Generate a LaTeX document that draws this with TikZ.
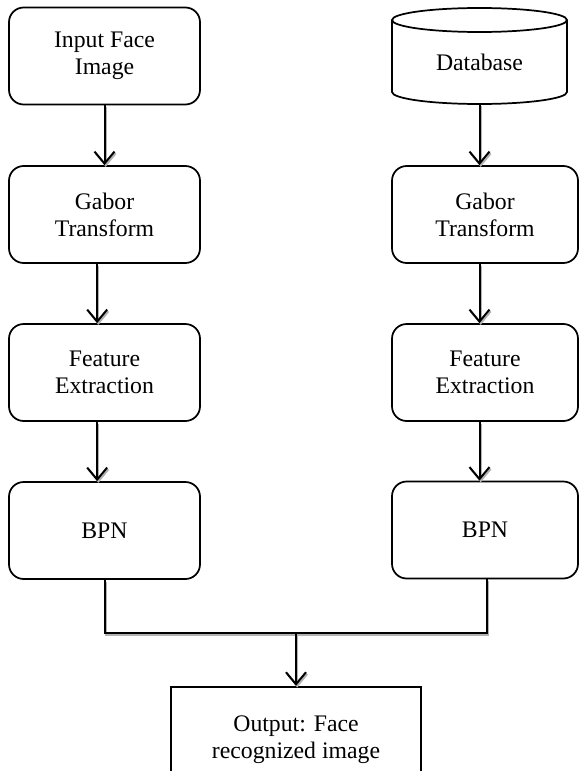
\documentclass[tikz,border=0pt]{standalone}
\usepackage{fontspec}
\setmainfont{Liberation Serif}
\usetikzlibrary{arrows.meta}
\begin{document}
\begin{tikzpicture}[x=0.75pt,y=-0.75pt,
  box/.style={draw,line width=1.3pt,rounded corners=11pt,minimum height=72.75pt,inner sep=0pt,align=center,
    font=\fontsize{17.8}{20.3}\selectfont},
  lbox/.style={box,minimum width=143.25pt},
  rbox/.style={box,minimum width=139.5pt},
  conn/.style={line width=1.5pt,preaction={draw=gray!60,line width=1.5pt,transform canvas={shift={(0.9pt,-1.3pt)}}}},
  arr/.style={conn,-{Straight Barb[length=9pt,width=15pt,line width=1.5pt]}}
]
\useasboundingbox (0,0) rectangle (579,771);
% left column
\node[lbox] (in) at (104.5,56) {Input Face\\Image};
\node[lbox] (g1) at (104.5,214.5) {Gabor\\Transform};
\node[lbox] (f1) at (104.5,372.5) {Feature\\Extraction};
\node[lbox] (b1) at (104.5,530.5) {BPN};
% right column: database cylinder
\draw[line width=1.3pt] (479.5,20) ellipse [x radius=87.5, y radius=12];
\draw[line width=1.3pt] (392,20) -- (392,92) arc[start angle=180,end angle=0,x radius=87.5,y radius=12] -- (567,20);
\node[inner sep=0pt,minimum width=131.25pt,minimum height=63pt,font=\fontsize{17.8}{20.3}\selectfont] (db) at (479.5,62) {Database};
\node[rbox] (g2) at (485,214.5) {Gabor\\Transform};
\node[rbox] (f2) at (485,372.5) {Feature\\Extraction};
\node[rbox] (b2) at (485,530) {BPN};
% output
\node[draw,line width=1.3pt,minimum width=187.5pt,minimum height=80pt,inner sep=0pt,align=center,
  font=\fontsize{17.8}{20.3}\selectfont] (out) at (296,740) {Output: Face\\recognized image};
% arrows left
\draw[arr] (in.south) -- (g1.north);
\draw[arr] ([xshift=-5.5pt]g1.south) -- ([xshift=-5.5pt]f1.north);
\draw[arr] ([xshift=-5.5pt]f1.south) -- ([xshift=-5.5pt]b1.north);
% arrows right
\draw[arr] (db.south) -- (db.south |- g2.north);
\draw[arr] (db.south |- g2.south) -- (db.south |- f2.north);
\draw[arr] (db.south |- f2.south) -- (db.south |- b2.north);
% merge
\coordinate (m) at (296,633);
\draw[conn] (b1.south) -- (b1.south |- m) -- ([xshift=1.5pt]b2.south |- m) -- ([xshift=1.5pt]b2.south);
\draw[arr] (m) -- (out.north);
\end{tikzpicture}
\end{document}
